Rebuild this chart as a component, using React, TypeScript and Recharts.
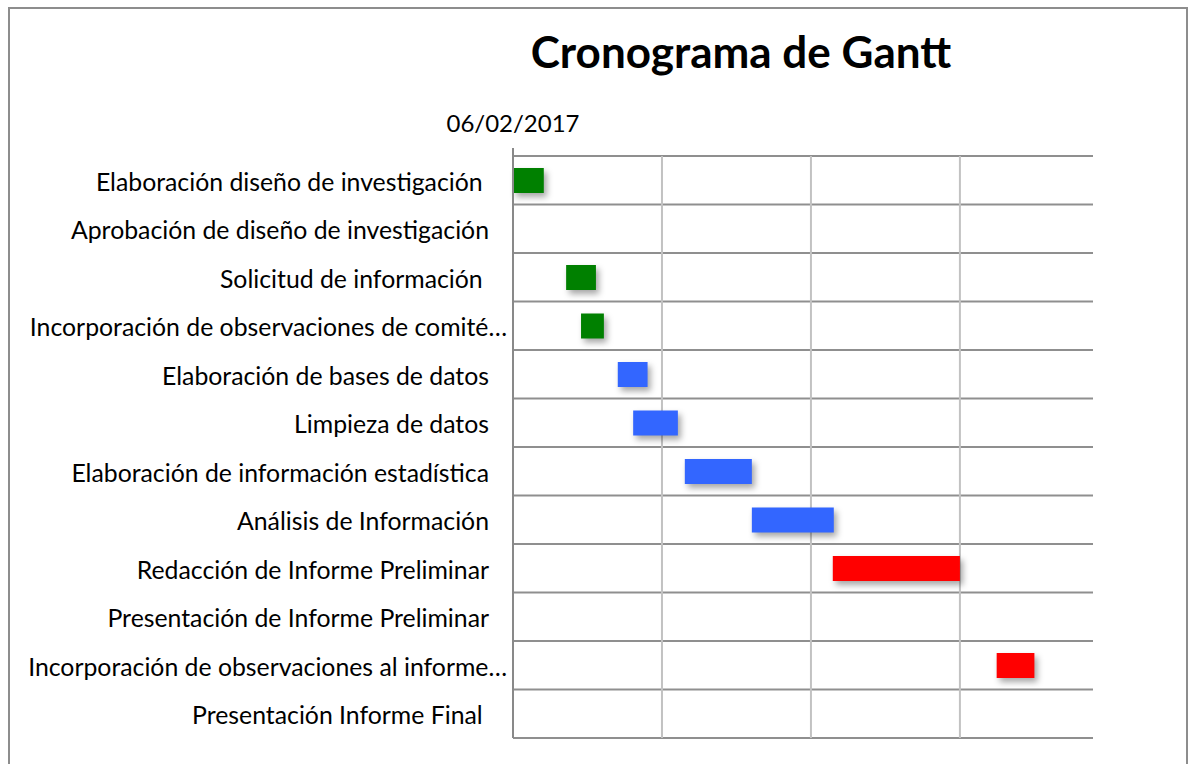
import { BarChart, Bar, XAxis, YAxis, CartesianGrid } from "recharts";

// tasks, days counted from 06/02/2017
const tasks = [
  "Elaboración diseño de investigación ",
  "Aprobación de diseño de investigación",
  "Solicitud de información ",
  "Incorporación de observaciones de comité…",
  "Elaboración de bases de datos",
  "Limpieza de datos",
  "Elaboración de información estadística",
  "Análisis de Información",
  "Redacción de Informe Preliminar",
  "Presentación de Informe Preliminar",
  "Incorporación de observaciones al informe…",
  "Presentación Informe Final ",
];
const startDays = [0, 0, 10.7, 13.7, 21.1, 24.2, 34.6, 48.1, 64.4, 0, 97.4, 0];
const durationDays = [6.2, null, 6, 4.6, 6, 9, 13.5, 16.5, 25.6, null, 7.6, null];
const phases = [0, 0, 0, 0, 1, 1, 1, 1, 2, 2, 2, 2];
const phaseColors = ["#008000", "#3366ff", "#ff0000"];
const dayTicks = [0, 30, 60, 90];
const tickLabels = ["06/02/2017", "", "", ""];
const MAX_DAY = 116.8;

const data = tasks.map((name, i) => ({
  name,
  start: startDays[i],
  dur: durationDays[i],
  phase: phases[i],
}));

const FONT = "Lato, 'DejaVu Sans', sans-serif";

function DateTick(props: any) {
  const { x, y, index } = props;
  if (index !== 0) return null;
  return (
    <g>
      <line x1={x} x2={x} y1={y - 8} y2={y} stroke="#898989" strokeWidth={2} />
      <text x={x} y={y - 34} textAnchor="middle" dominantBaseline="central"
        fontFamily={FONT} fontSize={24} fill="#000">
        {tickLabels[index]}
      </text>
    </g>
  );
}

function TaskTick(props: any) {
  const { x, y, payload } = props;
  const label: string = payload.value;
  const cut = label.endsWith("…");
  return (
    <text x={cut ? x - 6 : x - 24} y={y + 1} textAnchor="end" dominantBaseline="central"
      fontFamily={FONT} fontSize={24.8} fill="#000" style={{ whiteSpace: "pre" }}>
      {label}
    </text>
  );
}

function TaskBar(props: any) {
  const { x, y, width, height, payload } = props;
  if (!width || width <= 0) return null;
  return (
    <rect x={x} y={y} width={width} height={height}
      fill={phaseColors[payload.phase]}
      style={{ filter: "drop-shadow(3px 4px 3px rgba(0,0,0,0.35))" }} />
  );
}

export default function App() {
  return (
    <div style={{ position: "absolute", left: 0, top: 0, width: 1190, height: 764, overflow: "hidden", background: "#fff" }}>
      <div style={{ position: "absolute", left: 8, top: 7, width: 1180, height: 800, boxSizing: "border-box", border: "2px solid #8d8d8d" }} />
      <div style={{ position: "absolute", left: 0, width: 1482, top: 24, textAlign: "center", fontFamily: FONT, fontWeight: 700, fontSize: 44, lineHeight: "54px", color: "#000" }}>
        Cronograma de Gantt
      </div>
      <div style={{ position: "absolute", left: 0, top: 0 }}>
        <BarChart width={1190} height={764} data={data} layout="vertical"
          margin={{ top: 0, right: 97, bottom: 26, left: 0 }} barSize={25}>
          <CartesianGrid vertical={false} stroke="#8f8f8f" strokeWidth={2}
            horizontalCoordinatesGenerator={({ offset }: any) =>
              tasks.map((_, i) => offset.top + (offset.height * i) / tasks.length).concat(offset.top + offset.height)} />
          <CartesianGrid horizontal={false} stroke="#c2c2c2" strokeWidth={2}
            verticalCoordinatesGenerator={({ xAxis, offset }: any) =>
              dayTicks.map((t) =>
                xAxis && typeof xAxis.scale === "function"
                  ? xAxis.scale(t)
                  : offset.left + (offset.width * t) / MAX_DAY)} />
          <XAxis type="number" orientation="top" domain={[0, MAX_DAY]} ticks={dayTicks}
            height={156} axisLine={false} tickLine={false} tickSize={0} tickMargin={0}
            tick={<DateTick />} interval={0} />
          <YAxis type="category" dataKey="name" width={513} axisLine={{ stroke: "#898989", strokeWidth: 2 }}
            tickLine={false} tickSize={0} tickMargin={0} tick={<TaskTick />} interval={0} />
          <Bar dataKey="start" stackId="t" fill="transparent" isAnimationActive={false} />
          <Bar dataKey="dur" stackId="t" shape={<TaskBar />} isAnimationActive={false} />
        </BarChart>
      </div>
    </div>
  );
}
